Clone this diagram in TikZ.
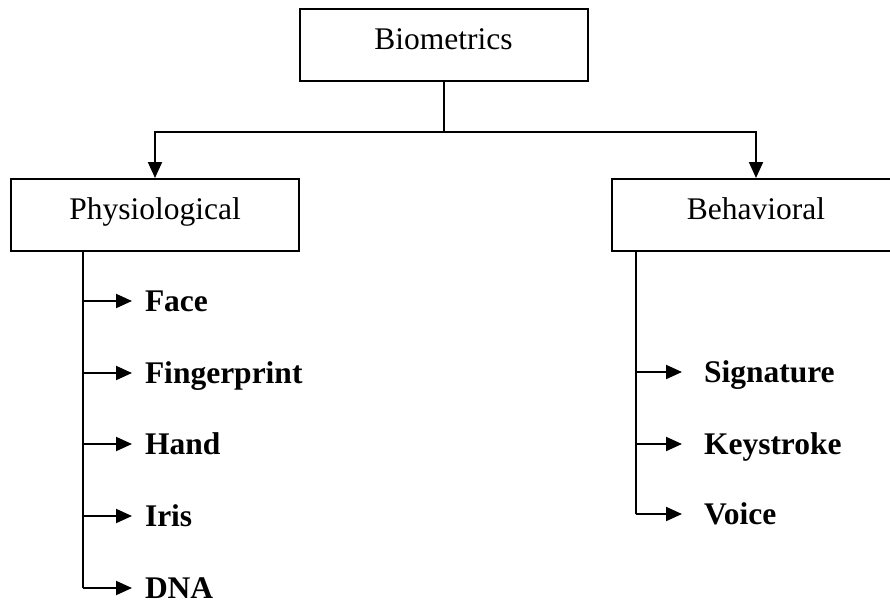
\documentclass[tikz,border=0pt]{standalone}
\usepackage{fontspec}
\setmainfont{Liberation Serif}
\usetikzlibrary{arrows.meta}
\begin{document}
\begin{tikzpicture}[x=1pt,y=-1pt, line width=2pt,
  catbox/.style={draw, minimum width=288pt, minimum height=72pt,
    inner sep=0pt, text height=22pt, text depth=13pt,
    font=\fontsize{31.5}{38}\selectfont},
  item/.style={anchor=west, inner sep=0pt, text height=21pt, text depth=0pt,
    font=\fontsize{31.5}{38}\selectfont\bfseries},
  tip/.style={-{Triangle[length=16pt,width=14pt]}},
  leftarrow/.style={tip, shorten >=12pt},
  rightarrow/.style={tip, shorten >=21pt}]
  \useasboundingbox (0,0) rectangle (890,607);
  \clip (0,0) rectangle (890,607);

  % category boxes
  \node[catbox] (bio) at (443.5,45) {Biometrics};
  \node[catbox] (phys) at (155,215) {Physiological};
  \node[catbox] (beh) at (756,215) {Behavioral};

  % split from the root to both categories
  \coordinate (split) at (443.5,132);
  \draw (bio.south) -- (split);
  \draw[tip] (split) -| (phys.north);
  \draw[tip] (split) -| (beh.north);

  % physiological traits
  \coordinate (pstem) at (83,251);
  \foreach \name/\txt/\y in {face/Face/301, finger/Fingerprint/373,
      hand/Hand/444, iris/Iris/516, dna/DNA/588} {
    \node[item] (\name) at (144,\y) {\txt};
    \coordinate (p-\name) at (83,\y);
  }
  \draw (pstem) -- (p-dna);
  \foreach \name in {face,finger,hand,iris,dna}
    \draw[leftarrow] (p-\name) -- (\name.west);

  % behavioral traits
  \coordinate (bstem) at (636,251);
  \foreach \name/\txt/\y in {sig/Signature/372, key/Keystroke/444, voice/Voice/514} {
    \node[item] (\name) at (703,\y) {\txt};
    \coordinate (b-\name) at (636,\y);
  }
  \draw (bstem) -- (b-voice);
  \foreach \name in {sig,key,voice}
    \draw[rightarrow] (b-\name) -- (\name.west);
\end{tikzpicture}
\end{document}
